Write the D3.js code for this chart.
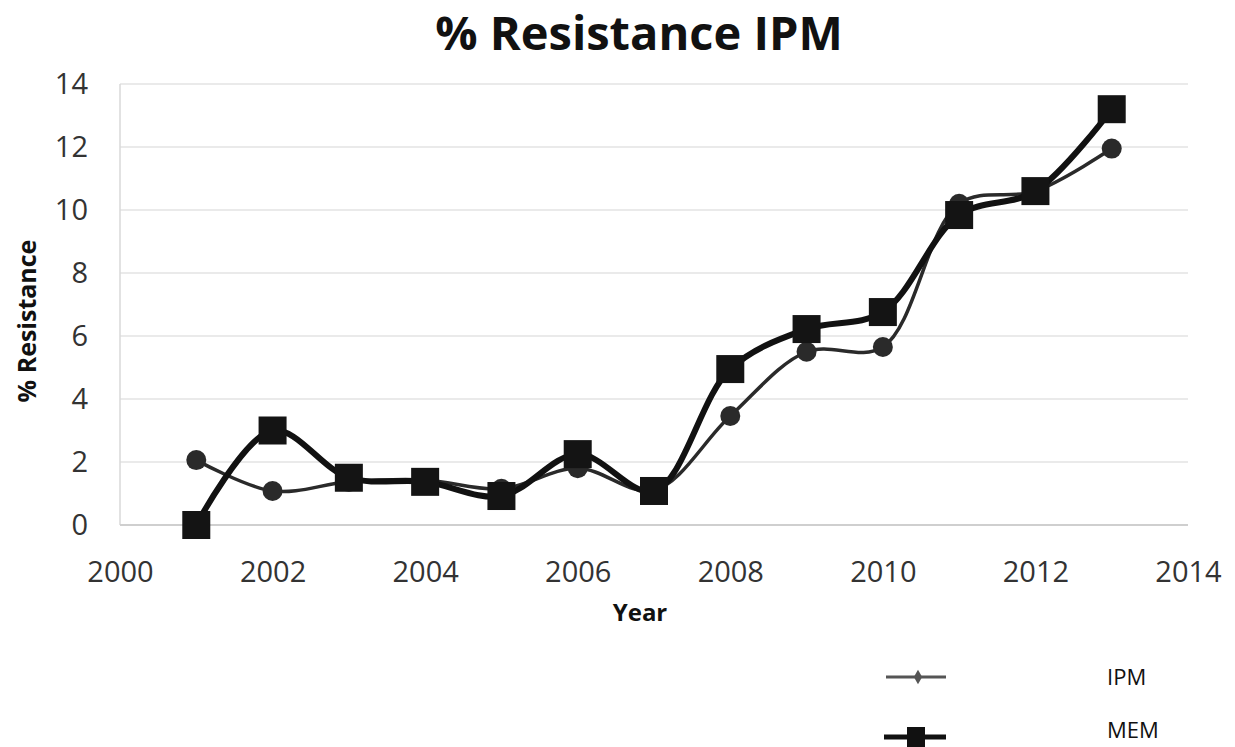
<!DOCTYPE html>
<html>
<head>
<meta charset="utf-8">
<script src="https://cdn.jsdelivr.net/npm/d3@7"></script>
<style>
  body { margin: 0; background: #fff; }
  text { font-family: "Open Sans", "DejaVu Sans", sans-serif; }
</style>
</head>
<body>
<div id="chart"></div>
<script>
// data
const years = [2001, 2002, 2003, 2004, 2005, 2006, 2007, 2008, 2009, 2010, 2011, 2012, 2013];
const ipm = [2.06, 1.08, 1.37, 1.43, 1.15, 1.8, 1.1, 3.46, 5.5, 5.65, 10.2, 10.6, 11.95];
const mem = [0, 3.0, 1.5, 1.37, 0.92, 2.25, 1.08, 4.95, 6.22, 6.76, 9.84, 10.6, 13.2];
const xTicks = [2000, 2002, 2004, 2006, 2008, 2010, 2012, 2014];
const yTicks = [0, 2, 4, 6, 8, 10, 12, 14];

const W = 1235, H = 747;
const margin = {top: 84, right: 47, bottom: 222, left: 120},
  width = W - margin.left - margin.right,
  height = H - margin.top - margin.bottom;

const svg = d3.select("#chart")
  .append("svg")
  .attr("width", W)
  .attr("height", H);

const g = svg.append("g")
  .attr("transform", `translate(${margin.left}, ${margin.top})`);

const x = d3.scaleLinear().domain([2000, 2014]).range([0, width]);
const y = d3.scaleLinear().domain([0, 14]).range([height, 0]);

// gridlines
g.append("g")
  .selectAll("line")
  .data(yTicks.filter(d => d > 0))
  .join("line")
  .attr("x1", 0).attr("x2", width)
  .attr("y1", d => y(d)).attr("y2", d => y(d))
  .attr("stroke", "#e3e3e3")
  .attr("stroke-width", 1.5);

// left & bottom axis lines
g.append("line")
  .attr("x1", 0).attr("x2", 0)
  .attr("y1", y(14)).attr("y2", y(0))
  .attr("stroke", "#d9d9d9").attr("stroke-width", 1.5);
g.append("line")
  .attr("x1", 0).attr("x2", width)
  .attr("y1", y(0)).attr("y2", y(0))
  .attr("stroke", "#cfcfcf").attr("stroke-width", 2);

// y axis
const yAxis = g.append("g")
  .call(d3.axisLeft(y).tickValues(yTicks).tickSize(0).tickPadding(32));
yAxis.select(".domain").remove();
yAxis.selectAll("text")
  .style("font-size", "29px")
  .attr("fill", "#333");

// x axis
const xAxis = g.append("g")
  .attr("transform", `translate(0, ${height})`)
  .call(d3.axisBottom(x).tickValues(xTicks).tickFormat(d3.format("d")).tickSize(0).tickPadding(36));
xAxis.select(".domain").remove();
xAxis.selectAll("text")
  .style("font-size", "29px")
  .attr("fill", "#333");

// lines
const ipmData = years.map((d, i) => [d, ipm[i]]);
const memData = years.map((d, i) => [d, mem[i]]);

const line = d3.line()
  .x(d => x(d[0]))
  .y(d => y(d[1]))
  .curve(d3.curveCatmullRom.alpha(0.5));

g.append("path")
  .datum(ipmData)
  .attr("d", line)
  .attr("fill", "none")
  .attr("stroke", "#2a2a2a")
  .attr("stroke-width", 3.5);

g.selectAll(".ipmDot")
  .data(ipmData)
  .join("circle")
  .attr("class", "ipmDot")
  .attr("cx", d => x(d[0]))
  .attr("cy", d => y(d[1]))
  .attr("r", 10)
  .attr("fill", "#2a2a2a");

g.append("path")
  .datum(memData)
  .attr("d", line)
  .attr("fill", "none")
  .attr("stroke", "#111")
  .attr("stroke-width", 6);

g.selectAll(".memSq")
  .data(memData)
  .join("rect")
  .attr("class", "memSq")
  .attr("x", d => x(d[0]) - 14)
  .attr("y", d => y(d[1]) - 14)
  .attr("width", 28)
  .attr("height", 28)
  .attr("fill", "#141414");

// title
svg.append("text")
  .attr("x", 639)
  .attr("y", 50)
  .attr("text-anchor", "middle")
  .style("font-size", "47px")
  .style("font-weight", "bold")
  .attr("fill", "#111")
  .text("% Resistance IPM");

// axis titles
svg.append("text")
  .attr("text-anchor", "middle")
  .attr("transform", "translate(36, 321) rotate(-90)")
  .style("font-size", "25px")
  .style("font-weight", "bold")
  .attr("fill", "#111")
  .text("% Resistance");

svg.append("text")
  .attr("x", 640)
  .attr("y", 621)
  .attr("text-anchor", "middle")
  .style("font-size", "24px")
  .style("font-weight", "bold")
  .attr("fill", "#111")
  .text("Year");

// legend
const leg = svg.append("g");
leg.append("line")
  .attr("x1", 886).attr("x2", 946).attr("y1", 677).attr("y2", 677)
  .attr("stroke", "#555").attr("stroke-width", 3);
leg.append("path")
  .attr("d", d3.symbol(d3.symbolDiamond, 60)())
  .attr("transform", "translate(918, 677)")
  .attr("fill", "#555");
leg.append("text")
  .attr("x", 1107).attr("y", 685)
  .style("font-size", "22px")
  .attr("fill", "#111")
  .text("IPM");

leg.append("line")
  .attr("x1", 884).attr("x2", 946).attr("y1", 737).attr("y2", 737)
  .attr("stroke", "#111").attr("stroke-width", 5);
leg.append("rect")
  .attr("x", 907).attr("y", 727).attr("width", 18).attr("height", 20)
  .attr("fill", "#111");
leg.append("text")
  .attr("x", 1107).attr("y", 738)
  .style("font-size", "22px")
  .attr("fill", "#111")
  .text("MEM");
</script>
</body>
</html>
